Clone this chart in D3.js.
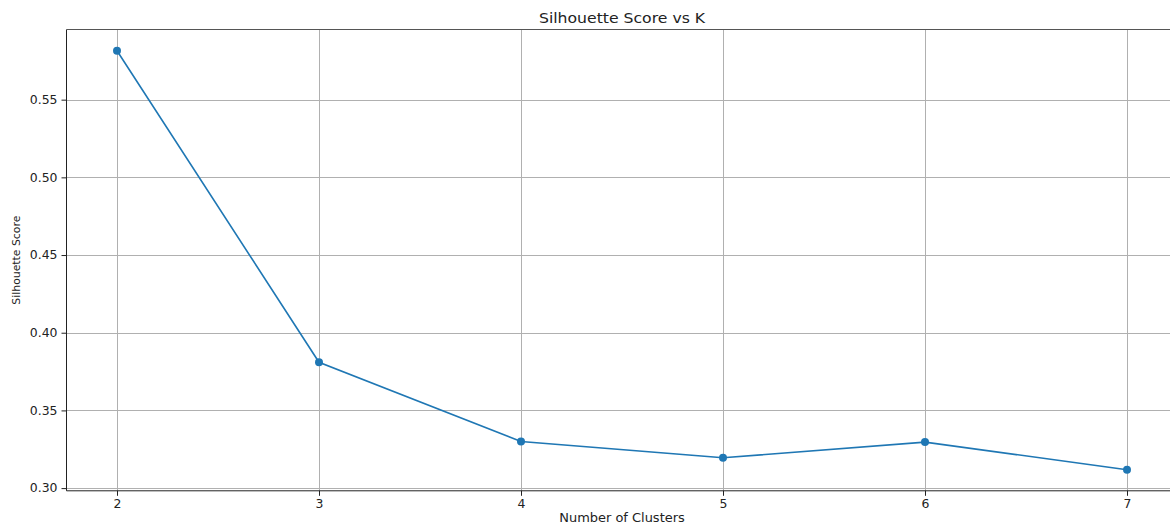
<!DOCTYPE html>
<html><head><meta charset="utf-8">
<script src="https://cdn.jsdelivr.net/npm/d3@7"></script>
<style>body{margin:0;background:#fff}svg{display:block}text{font-family:"DejaVu Sans",sans-serif;fill:#222}</style>
</head><body>
<script>
const kValues = [2, 3, 4, 5, 6, 7];
const silhouetteScores = [0.5815, 0.381, 0.3300, 0.3195, 0.3296, 0.3118];
const yTicks = [0.30, 0.35, 0.40, 0.45, 0.50, 0.55];
const xTicks = [2, 3, 4, 5, 6, 7];
const chartTitle = "Silhouette Score vs K";
const xLabel = "Number of Clusters";
const yLabel = "Silhouette Score";

(function () {
const W = 1170, H = 525;
const mL = 66.5, mT = 29.5, mR = 1177.5, mB = 490.8;
const svg = d3.select("body").append("svg").attr("width", W).attr("height", H);

const x = d3.scaleLinear().domain([1.75, 7.25]).range([mL, mR]);
const y = d3.scaleLinear().domain([0.29826, 0.59516]).range([mB, mT]);

function stretch(sel, k) {
  sel.each(function () {
    const w = this.getComputedTextLength();
    d3.select(this).attr("textLength", w * k).attr("lengthAdjust", "spacingAndGlyphs");
  });
}

// grid
const g = svg.append("g");
g.selectAll(".vg").data(xTicks).join("line")
  .attr("x1", d => Math.round(x(d)) + 0.5).attr("x2", d => Math.round(x(d)) + 0.5)
  .attr("y1", mT).attr("y2", mB).attr("stroke", "#b0b0b0").attr("stroke-width", 1);
g.selectAll(".hg").data(yTicks).join("line")
  .attr("x1", mL).attr("x2", mR)
  .attr("y1", d => Math.round(y(d)) + 0.5).attr("y2", d => Math.round(y(d)) + 0.5)
  .attr("stroke", "#b0b0b0").attr("stroke-width", 1);

// axes
const xAxis = d3.axisBottom(x).tickValues(xTicks).tickFormat(d3.format("d")).tickSize(5).tickPadding(4);
const yAxis = d3.axisLeft(y).tickValues(yTicks).tickFormat(d3.format(".2f")).tickSize(5).tickPadding(4);
const gx = svg.append("g").attr("transform", `translate(0,${mB})`).call(xAxis);
const gy = svg.append("g").attr("transform", `translate(${mL},0)`).call(yAxis);
[gx, gy].forEach(a => {
  a.select(".domain").remove();
  a.selectAll("line").attr("stroke", "#222");
  a.selectAll("text").attr("font-size", 11.5).attr("fill", "#222").style("font-family", '"DejaVu Sans",sans-serif');
  stretch(a.selectAll("text"), 1.08);
});

// spines
svg.append("line").attr("x1", mL).attr("x2", mL).attr("y1", mT).attr("y2", mB).attr("stroke", "#222");
svg.append("line").attr("x1", mL).attr("x2", mR).attr("y1", mB).attr("y2", mB).attr("stroke", "#222");
svg.append("line").attr("x1", mL).attr("x2", mR).attr("y1", mT).attr("y2", mT).attr("stroke", "#555");
svg.append("line").attr("x1", mR).attr("x2", mR).attr("y1", mT).attr("y2", mB).attr("stroke", "#222");

// line
const pts = kValues.map((k, i) => [k, silhouetteScores[i]]);
svg.append("path").datum(pts)
  .attr("d", d3.line().x(d => x(d[0])).y(d => y(d[1])))
  .attr("fill", "none").attr("stroke", "#1f77b4").attr("stroke-width", 1.6);
svg.selectAll(".pt").data(pts).join("circle")
  .attr("cx", d => x(d[0])).attr("cy", d => y(d[1])).attr("r", 4).attr("fill", "#1f77b4");

// texts
const t = svg.append("text").attr("x", (mL + mR) / 2).attr("y", 23).attr("text-anchor", "middle")
  .attr("font-size", 14.5).text(chartTitle);
stretch(t, 1.08);
const xl = svg.append("text").attr("x", (mL + mR) / 2).attr("y", 522).attr("text-anchor", "middle")
  .attr("font-size", 12).text(xLabel);
stretch(xl, 1.08);
const yl = svg.append("text").attr("transform", `translate(20,${(mT + mB) / 2}) rotate(-90)`).attr("text-anchor", "middle")
  .attr("font-size", 11).text(yLabel);
yl.attr("textLength", 89).attr("lengthAdjust", "spacingAndGlyphs");
})();
</script>
</body></html>
